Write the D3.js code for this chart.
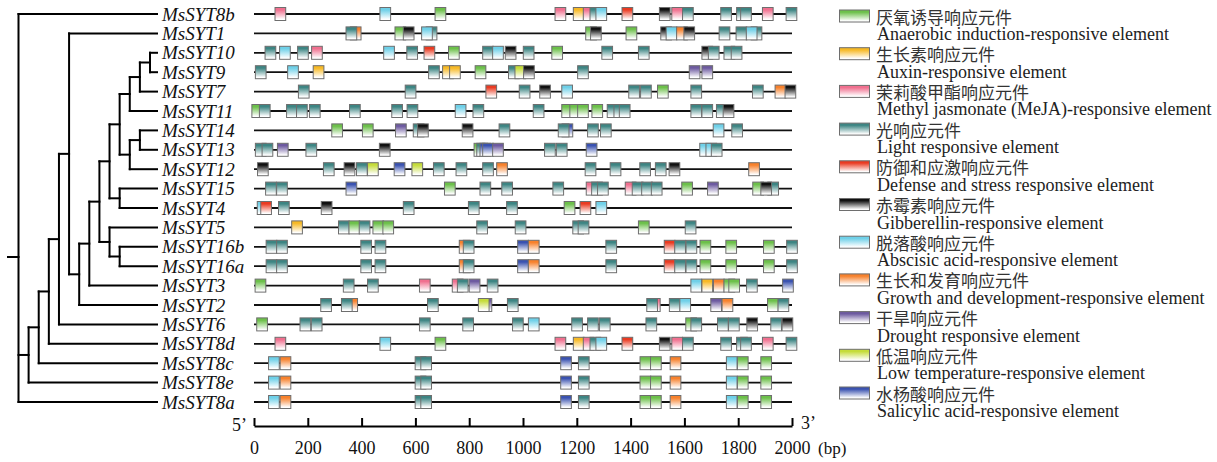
<!DOCTYPE html>
<html><head><meta charset="utf-8">
<script src="https://cdn.jsdelivr.net/npm/d3@7/dist/d3.min.js"></script>
<style>body{margin:0;background:#fff}</style>
</head><body>
<svg id="chart" width="1217" height="462"></svg>
<script>
// ---------------- DATA ----------------
const genes = ["MsSYT8b","MsSYT1","MsSYT10","MsSYT9","MsSYT7","MsSYT11","MsSYT14","MsSYT13","MsSYT12","MsSYT15","MsSYT4","MsSYT5","MsSYT16b","MsSYT16a","MsSYT3","MsSYT2","MsSYT6","MsSYT8d","MsSYT8c","MsSYT8e","MsSYT8a"];

// phylogeny (nested clades)
const cladeG = [[["MsSYT10","MsSYT9"],"MsSYT7"],"MsSYT11"];
const cladeH = [["MsSYT14","MsSYT13"],"MsSYT12"];
const cladeE = [[cladeG, cladeH], ["MsSYT15","MsSYT4"]];
const cladeB = ["MsSYT5", ["MsSYT16b","MsSYT16a"]];
const cladeN79 = [[[cladeE, cladeB], "MsSYT3"], "MsSYT2"];
const treeData = ["MsSYT8b", [[[[["MsSYT1", cladeN79], "MsSYT6"], "MsSYT8d"], "MsSYT8c"], "MsSYT8e"], "MsSYT8a"];

// element types
const types   = ["ana","aux","mej","lig","def","gib","aba","gro","dro","low","sal"];
const typeCN  = ["厌氧诱导响应元件","生长素响应元件","茉莉酸甲酯响应元件","光响应元件","防御和应激响应元件","赤霉素响应元件","脱落酸响应元件","生长和发育响应元件","干旱响应元件","低温响应元件","水杨酸响应元件"];
const typeEN  = ["Anaerobic induction-responsive element","Auxin-responsive element","Methyl jasmonate (MeJA)-responsive element","Light responsive element","Defense and stress responsive element","Gibberellin-responsive element","Abscisic acid-responsive element","Growth and development-responsive element","Drought responsive element","Low temperature-responsive element","Salicylic acid-responsive element"];
const typeColor = ["#6cc04a","#f7b925","#f0708f","#3d8583","#ea3b22","#111111","#6fd0e8","#f7812c","#6d5aa0","#c5dc3a","#3a52b0"];

// axis ticks (bp)
const tickValues = [0,200,400,600,800,1000,1200,1400,1600,1800,2000];

// cis-elements per gene: [type, position in bp]  (drawn in listed order)
const site8b = [["mej",98],["aba",488],["ana",693],["mej",1139],["aux",1207],["mej",1244],["lig",1269],["aba",1291],["def",1388],["gib",1527],["mej",1573],["lig",1613],["lig",1755],["lig",1814],["lig",1829],["mej",1910],["lig",1998]];
const site1  = [["gro",378],["lig",362],["ana",544],["gib",575],["lig",660],["aba",643],["ana",1253],["gib",1271],["ana",1403],["gib",1532],["aba",1552],["gro",1591],["gib",1618],["lig",1749],["lig",1812],["lig",1868],["aba",1850]];
const site10 = [["lig",61],["aba",115],["lig",182],["mej",234],["aba",502],["lig",588],["def",652],["ana",743],["lig",870],["aba",907],["gib",954],["lig",1021],["ana",1127],["lig",1313],["lig",1449],["gib",1685],["lig",1709],["lig",1767],["lig",1794]];
const site9  = [["lig",25],["aba",145],["aux",240],["lig",669],["aux",721],["aux",747],["ana",842],["lig",966],["low",990],["gib",1022],["lig",1223],["dro",1638],["dro",1685]];
const site7  = [["lig",185],["lig",582],["def",882],["lig",1006],["gib",1082],["aba",1164],["lig",1413],["lig",1457],["ana",1520],["lig",1644],["lig",1873],["gro",1957],["gib",1994]];
const site11 = [["ana",12],["lig",40],["lig",141],["lig",178],["lig",226],["lig",375],["lig",532],["lig",589],["aba",768],["lig",834],["lig",1058],["ana",1164],["ana",1194],["ana",1223],["ana",1276],["lig",1333],["lig",1358],["lig",1378],["lig",1644],["lig",1685],["lig",1739],["gib",1764]];
const site14 = [["ana",309],["ana",423],["dro",546],["lig",612],["gib",628],["gib",794],["lig",931],["sal",1165],["lig",1151],["lig",1260],["lig",1308],["aba",1727],["lig",1796]];
const site13 = [["lig",25],["lig",50],["dro",107],["lig",213],["gib",486],["ana",838],["lig",848],["sal",860],["sal",870],["dro",907],["lig",1100],["lig",1144],["sal",1255],["aba",1677],["aba",1700],["lig",1720]];
const site12 = [["gib",33],["lig",278],["gib",355],["lig",401],["low",442],["sal",541],["low",607],["lig",687],["lig",771],["lig",870],["gro",922],["lig",1251],["lig",1344],["lig",1454],["lig",1512],["gib",1563],["gro",1859]];
const site15 = [["lig",63],["lig",104],["sal",362],["ana",728],["lig",860],["lig",941],["lig",1131],["mej",1255],["lig",1275],["lig",1297],["mej",1400],["lig",1426],["lig",1461],["lig",1497],["ana",1610],["dro",1706],["ana",1874],["lig",1930],["gib",1904]];
const site4  = [["aba",32],["def",45],["lig",111],["gib",270],["lig",575],["lig",817],["lig",959],["ana",1173],["def",1232],["aba",1291]];
const site5  = [["aux",160],["lig",334],["ana",373],["lig",411],["ana",462],["ana",499],["lig",848],["lig",991],["lig",1205],["lig",1225],["ana",1449],["lig",1623]];
const site16 = [["lig",65],["lig",104],["lig",417],["lig",470],["gro",783],["lig",798],["sal",1000],["gro",1040],["lig",1328],["def",1545],["lig",1584],["lig",1626],["ana",1678],["ana",1774],["ana",1914],["lig",2000]];
const site3  = [["ana",24],["lig",352],["lig",442],["mej",635],["mej",757],["lig",776],["dro",820],["lig",887],["aba",1644],["aux",1685],["gro",1728],["ana",1767],["ana",1785],["lig",1851],["sal",1985]];
const site2  = [["lig",268],["gro",365],["lig",345],["lig",665],["dro",864],["low",854],["lig",962],["mej",1490],["lig",1480],["lig",1564],["aba",1603],["dro",1718],["gro",1760],["ana",1929],["lig",1968]];
const site6  = [["ana",30],["lig",191],["lig",233],["lig",635],["lig",796],["lig",981],["aba",1040],["lig",1201],["lig",1260],["lig",1304],["lig",1477],["ana",1625],["lig",1644],["lig",1743],["lig",1784],["gib",1852],["lig",1941],["gib",1983]];
const site8c = [["aba",74],["gro",117],["lig",619],["lig",640],["sal",1160],["lig",1226],["ana",1455],["ana",1494],["gro",1567],["aba",1776],["ana",1817],["ana",1904]];

const sites = [site8b, site1, site10, site9, site7, site11, site14, site13, site12, site15, site4, site5, site16, site16, site3, site2, site6, site8b, site8c, site8c, site8c];

// ---------------- DRAWING ----------------
const svg = d3.select("#chart");
svg.append("rect").attr("width",1217).attr("height",462).attr("fill","#fff");
const serif = "'Liberation Serif','Times New Roman',serif";

const x = d3.scaleLinear().domain([0,2000]).range([254,792]);
const y = d3.scalePoint().domain(genes).range([14,402]);
const colorOf = d3.scaleOrdinal().domain(types).range(typeColor);

// gradients
const defs = svg.append("defs");
types.forEach(t => {
  const g = defs.append("linearGradient").attr("id","g-"+t)
    .attr("x1",0).attr("y1",0).attr("x2",0).attr("y2",1);
  g.append("stop").attr("offset","0").attr("stop-color",colorOf(t));
  g.append("stop").attr("offset","0.18").attr("stop-color",colorOf(t));
  g.append("stop").attr("offset","0.9").attr("stop-color","#fff");
});

// tree
const root = d3.hierarchy(treeData, d => Array.isArray(d) ? d : null);
const depthX = d3.scaleLinear().domain([0,13]).range([18.5,150]);
const leafX = 157;
root.eachAfter(n => {
  if (!n.children) { n.py = y(n.data); n.px = leafX; }
  else { n.py = d3.mean(n.children, c => c.py); n.px = depthX(n.depth); }
});
const tg = svg.append("g").attr("stroke","#000").attr("stroke-width",2).attr("fill","none").attr("stroke-linecap","square");
root.descendants().forEach(n => {
  if (n.parent) tg.append("line").attr("x1",n.parent.px).attr("x2",n.px).attr("y1",n.py).attr("y2",n.py);
  if (n.children) {
    const ys = n.children.map(c => c.py);
    tg.append("line").attr("x1",n.px).attr("x2",n.px).attr("y1",d3.min(ys)).attr("y2",d3.max(ys));
  }
});
tg.append("line").attr("x1",8).attr("x2",root.px).attr("y1",root.py).attr("y2",root.py);

// gene labels
svg.append("g").selectAll("text").data(genes).join("text")
  .attr("x",162).attr("y",d => y(d)).attr("dy","0.35em")
  .attr("font-family",serif)
  .attr("font-style","italic").attr("font-size",19).attr("fill","#111")
  .text(d => d);

// rows
const rows = svg.append("g").selectAll("g").data(genes).join("g")
  .attr("transform", d => `translate(0,${y(d)})`);
rows.append("line").attr("x1",x(0)).attr("x2",x(2000))
  .attr("stroke","#111").attr("stroke-width",1.8);
const bw = 10.7, bh = 13;
rows.each(function(g, i) {
  d3.select(this).selectAll("rect").data(sites[i]).join("rect")
    .attr("x", d => x(d[1]) - bw/2).attr("y", -bh/2)
    .attr("width", bw).attr("height", bh)
    .attr("fill", d => `url(#g-${d[0]})`)
    .attr("stroke","#6e6e6e").attr("stroke-width",1);
});

// axis
const axisY = 426;
const ax = svg.append("g").attr("transform",`translate(0,${axisY})`)
  .call(d3.axisBottom(x).tickValues(tickValues).tickFormat(d3.format("d"))
        .tickSizeInner(-8).tickSizeOuter(0).tickPadding(15));
ax.select(".domain").attr("stroke","#000").attr("stroke-width",2);
ax.selectAll(".tick line").attr("stroke","#000").attr("stroke-width",2);
ax.selectAll(".tick text").attr("font-family",serif)
  .attr("font-size",18).attr("fill","#111");
svg.append("text").attr("x",232).attr("y",431).attr("font-family",serif).attr("font-size",18).attr("fill","#111").text("5’");
svg.append("text").attr("x",801).attr("y",429).attr("font-family",serif).attr("font-size",18).attr("fill","#111").text("3’");
svg.append("text").attr("x",818).attr("y",454).attr("font-family",serif).attr("font-size",17).attr("fill","#111").text("(bp)");

// legend
const step = 37.7;
const lg = svg.append("g").selectAll("g").data(types).join("g")
  .attr("transform",(d,i)=>`translate(0,${i*step})`);
lg.append("rect").attr("x",839.5).attr("y",10).attr("width",30).attr("height",12)
  .attr("fill",d=>`url(#g-${d})`).attr("stroke","#6e6e6e").attr("stroke-width",1);
lg.append("text").attr("x",876).attr("y",16).attr("dominant-baseline","central")
  .attr("font-family","'Noto Sans CJK SC',sans-serif").attr("font-size",17).attr("fill","#333")
  .text((d,i)=>typeCN[i]);
lg.append("text").attr("x",877).attr("y",33.8).attr("dy","0.35em")
  .attr("font-family",serif).attr("font-size",18).attr("fill","#222")
  .text((d,i)=>typeEN[i]);
</script>
</body></html>
